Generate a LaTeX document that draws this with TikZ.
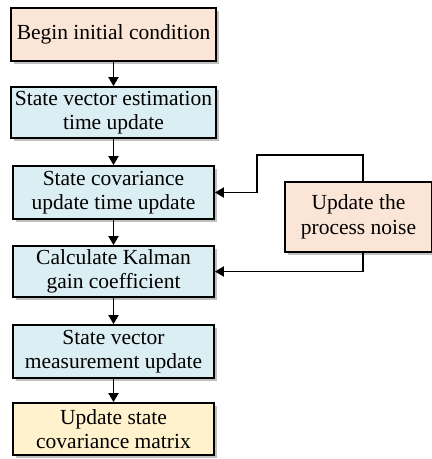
\documentclass[tikz,border=0pt]{standalone}
\usepackage{fontspec}
\setmainfont{Liberation Serif}
\usetikzlibrary{arrows.meta,shadows}

\definecolor{peche}{RGB}{251,229,214}
\definecolor{bleuclair}{RGB}{219,238,243}
\definecolor{jaunepale}{RGB}{255,242,204}

\begin{document}
\begin{tikzpicture}[x=1pt, y=-1pt, >={Triangle[width=10pt,length=9pt]},
    boite/.style={draw=black, line width=1.8pt, align=center, inner sep=0pt,
        font=\fontsize{21.5}{24.5}\selectfont,
        drop shadow={shadow xshift=2.5pt, shadow yshift=-2.5pt, fill=black!55, opacity=0.45}},
    fleche/.style={->, line width=1.8pt}]
    \useasboundingbox (0,0) rectangle (432,459);

    % Chaine principale
    \node[boite, fill=peche, minimum width=205pt, minimum height=53pt] (debut) at (113.5,34.5) {Begin initial condition};
    \node[boite, fill=bleuclair, minimum width=205pt, minimum height=51pt] (vecteur) at (113.5,112.5) {State vector estimation\\time update};
    \node[boite, fill=bleuclair, minimum width=201pt, minimum height=53pt] (covtemps) at (113.5,192.5) {State covariance\\update time update};
    \node[boite, fill=bleuclair, minimum width=201pt, minimum height=51pt] (gain) at (113.5,271.5) {Calculate Kalman\\gain coefficient};
    \node[boite, fill=bleuclair, minimum width=201pt, minimum height=53pt] (mesure) at (113.5,351.5) {State vector\\measurement update};
    \node[boite, fill=jaunepale, minimum width=201pt, minimum height=52pt] (covmat) at (113.5,429) {Update state\\covariance matrix};

    % Bruit de processus
    \node[boite, fill=peche, minimum width=147pt, minimum height=70pt] (bruit) at (358.5,217) {Update the\\process noise};

    % Fleches verticales
    \draw[fleche] (debut) -- (vecteur);
    \draw[fleche] (vecteur) -- (covtemps);
    \draw[fleche] (covtemps) -- (gain);
    \draw[fleche] (gain) -- (mesure);
    \draw[fleche] (mesure) -- (covmat);

    % Retours depuis le bruit
    \coordinate (haut) at (363,155);
    \coordinate (coude) at (257,155);
    \draw[fleche] (bruit.north -| haut) -- (haut) -- (coude) |- (covtemps.east);
    \draw[fleche] (bruit.south -| haut) |- (gain.east);
\end{tikzpicture}
\end{document}
